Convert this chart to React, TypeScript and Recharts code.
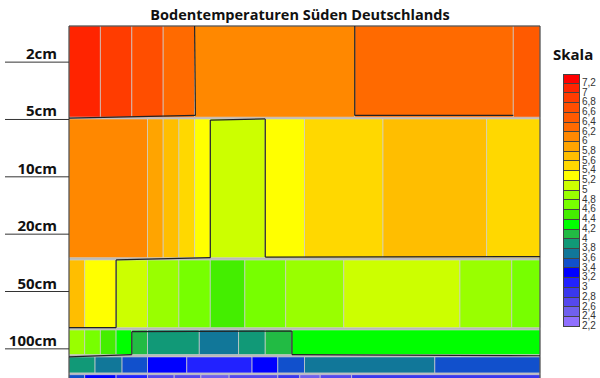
import React from "react";
import { ComposedChart, XAxis, YAxis, ReferenceArea, ReferenceLine } from "recharts";

// depth levels (y axis, one unit per label) and time (x axis, 0..30)
const DEPTH_LABELS = ["2cm", "5cm", "10cm", "20cm", "50cm", "100cm"];
const DEPTH_TICKS = [0, 1, 2, 3, 4, 5];

const SCALE_STEPS = [7.2, 7, 6.8, 6.6, 6.4, 6.2, 6, 5.8, 5.6, 5.4, 5.2, 5, 4.8, 4.6, 4.4, 4.2, 4, 3.8, 3.6, 3.4, 3.2, 3, 2.8, 2.6, 2.4, 2.2];
const SCALE_COLORS = [
  "#ff0000", "#ff2400", "#ff3c00", "#ff4e00", "#ff5a00", "#ff6a00", "#ff8800", "#ffa400",
  "#ffbe00", "#ffd800", "#ffff00", "#ccff00", "#99ff00", "#77ff00", "#44ee00", "#00ff00",
  "#22bb44", "#119977", "#117799", "#1150cc", "#0000ff", "#2222ff", "#3a38ee", "#5548ee",
  "#7060ee", "#9070ff",
];

// band extents in depth-level units
const BAND_TOP = [-0.63, 0.99, 3.45, 4.67, 5.14, 5.45];
const BAND_BOTTOM = [0.96, 3.41, 4.63, 5.1, 5.42, 5.7];

// cell boundaries (time) and temperatures per band
const BAND_EDGES = [
  [0, 2, 4, 6, 8, 18.2, 28.3, 30],
  [0, 5, 6, 7, 8, 9, 12.5, 15, 20, 26.6, 30],
  [0, 1, 3, 5, 7, 9, 11.2, 13.8, 17.5, 24.9, 28.2, 30],
  [0, 1, 2, 3, 4, 5, 8.3, 10.8, 12.5, 14.2, 30],
  [0, 1.66, 3.38, 5, 7.5, 11.66, 13.3, 15, 23.3, 30],
  [0, 1, 3, 5, 6.7, 8.4, 10.2, 13.3, 14.7, 16, 18, 30],
];
const BAND_TEMPS = [
  [7.0, 6.8, 6.6, 6.2, 6.0, 6.2, 6.4],
  [6.0, 5.8, 5.6, 5.4, 5.2, 5.0, 5.2, 5.4, 5.6, 5.4],
  [5.6, 5.2, 5.0, 4.8, 4.6, 4.4, 4.6, 4.8, 5.0, 4.8, 4.6],
  [4.8, 4.6, 4.4, 4.2, 4.0, 3.8, 3.6, 3.8, 4.0, 4.2],
  [3.8, 3.6, 3.4, 3.2, 3.0, 3.2, 3.4, 3.6, 3.4],
  [3.4, 3.2, 3.0, 2.6, 2.6, 2.4, 2.6, 2.8, 2.4, 2.6, 2.8],
];

// isotherm outlines, [time, level] pairs
const CONTOURS: number[][][] = [
  [[8, -0.63], [8.05, 0.93], [0, 0.975]],
  [[18.2, -0.63], [18.2, 0.93], [28.3, 0.93]],
  [[9, 3.41], [9, 1.01], [12.5, 0.99], [12.5, 3.4]],
  [[0, 4.63], [3, 4.63], [3, 3.45], [9, 3.41]],
  [[12.5, 3.4], [30, 3.39]],
  [[0, 5.14], [4, 5.1], [4, 4.7], [14.2, 4.69], [14.2, 5.1], [30, 5.12]],
];

const FONT = "'Open Sans', sans-serif";

function colorFor(t: number) {
  let best = 0;
  SCALE_STEPS.forEach((s, i) => {
    if (Math.abs(s - t) < Math.abs(SCALE_STEPS[best] - t)) best = i;
  });
  return SCALE_COLORS[best];
}

const DepthTick = ({ y, payload }: any) => (
  <g>
    <line x1={5} x2={69} y1={y} y2={y} stroke="#333" strokeWidth={1} />
    <text x={57} y={y - 3} textAnchor="end" fontFamily={FONT} fontWeight={700} fontSize={15} fill="#111">
      {DEPTH_LABELS[payload.value]}
    </text>
  </g>
);

export default function App() {
  const cells: React.ReactNode[] = [];
  BAND_EDGES.forEach((edges, b) => {
    BAND_TEMPS[b].forEach((t, i) => {
      cells.push(
        <ReferenceArea
          key={`c${b}-${i}`}
          x1={edges[i]}
          x2={edges[i + 1]}
          y1={BAND_TOP[b]}
          y2={BAND_BOTTOM[b]}
          fill={colorFor(t)}
          fillOpacity={1}
          stroke="#d0d0d0"
          strokeOpacity={0.7}
          ifOverflow="visible"
        />
      );
    });
  });

  const lines: React.ReactNode[] = [];
  CONTOURS.forEach((pts, c) => {
    for (let i = 0; i < pts.length - 1; i++) {
      lines.push(
        <ReferenceLine
          key={`l${c}-${i}`}
          segment={[
            { x: pts[i][0], y: pts[i][1] },
            { x: pts[i + 1][0], y: pts[i + 1][1] },
          ]}
          stroke="#222"
          strokeWidth={1.2}
          ifOverflow="visible"
        />
      );
    }
  });

  return (
    <div style={{ position: "fixed", left: 0, top: 0, width: 600, height: 378, overflow: "hidden", background: "#fff" }}>
      <div
        style={{
          position: "absolute", left: 0, width: 600, top: 5, textAlign: "center",
          fontFamily: FONT, fontWeight: 700, fontSize: 14.5, color: "#111",
        }}
      >
        Bodentemperaturen Süden Deutschlands
      </div>
      <ComposedChart width={600} height={392} margin={{ top: 26, right: 60, bottom: 3, left: 0 }}>
        <XAxis type="number" dataKey="x" domain={[0, 30]} allowDataOverflow hide />
        <YAxis
          type="number"
          dataKey="y"
          domain={[-0.63, 5.7]}
          allowDataOverflow
          reversed
          ticks={DEPTH_TICKS}
          interval={0}
          width={69}
          axisLine={false}
          tickLine={false}
          tick={<DepthTick />}
        />
        <ReferenceArea x1={0} x2={30} y1={-0.63} y2={5.7} fill="#b8b8b8" fillOpacity={1} stroke="none" ifOverflow="visible" />
        {cells}
        {lines}
        <ReferenceArea x1={0} x2={30} y1={-0.63} y2={5.7} fill="none" stroke="#333" strokeWidth={1} ifOverflow="visible" />
      </ComposedChart>
      <div style={{ position: "absolute", left: 553, top: 44, fontFamily: FONT, fontWeight: 700, fontSize: 15, color: "#111" }}>
        Skala
      </div>
      <div style={{ position: "absolute", left: 563, top: 74 }}>
        {SCALE_STEPS.map((s, i) => (
          <div key={s} style={{ position: "relative", height: 9.73 }}>
            <div
              style={{
                position: "absolute", left: 0, top: 0, width: 17, height: 9.73, boxSizing: "border-box",
                background: SCALE_COLORS[i], border: "1px solid #444", borderTopWidth: i === 0 ? 1 : 0,
              }}
            />
            <div
              style={{
                position: "absolute", left: 19, top: 3, fontFamily: "'Liberation Sans', Arial, sans-serif",
                fontSize: 10, lineHeight: "12px", color: "#333",
              }}
            >
              {String(s).replace(".", ",")}
            </div>
          </div>
        ))}
      </div>
    </div>
  );
}
